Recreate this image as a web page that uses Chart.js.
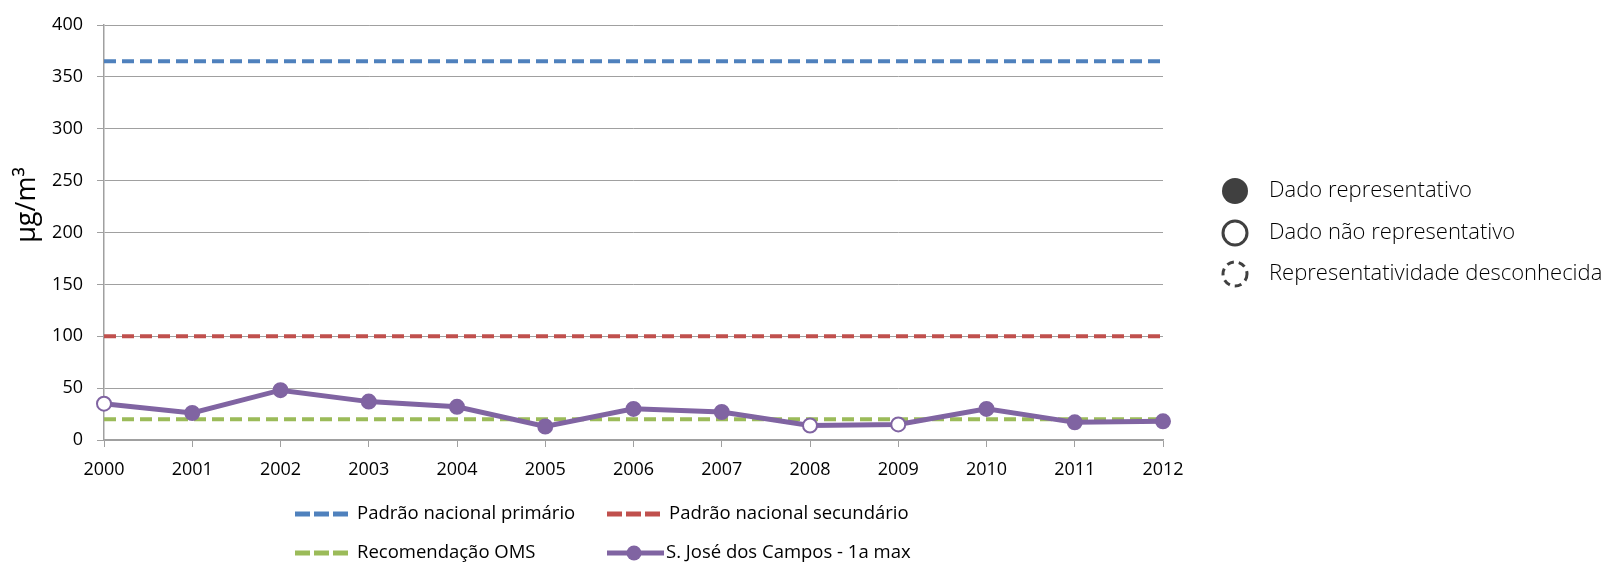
<!DOCTYPE html>
<html>
<head>
<meta charset="utf-8">
<script src="https://cdn.jsdelivr.net/npm/chart.js@4.4.0/dist/chart.umd.min.js"></script>
<style>
  body { margin: 0; background: #fff; }
  #wrap { width: 1611px; height: 565px; position: relative; }
</style>
</head>
<body>
<div id="wrap"><canvas id="chart" width="1611" height="565"></canvas></div>
<script>
const years = ["2000", "2001", "2002", "2003", "2004", "2005", "2006", "2007", "2008", "2009", "2010", "2011", "2012"];
const yTicks = [0, 50, 100, 150, 200, 250, 300, 350, 400];

const primario = [365, 365, 365, 365, 365, 365, 365, 365, 365, 365, 365, 365, 365];
const secundario = [100, 100, 100, 100, 100, 100, 100, 100, 100, 100, 100, 100, 100];
const oms = [20, 20, 20, 20, 20, 20, 20, 20, 20, 20, 20, 20, 20];
const sjc = [35, 26, 48, 37, 32, 13, 30, 27, 14, 15, 30, 17, 18];
// true = dado representativo (marcador cheio)
const representativo = [false, true, true, true, true, true, true, true, false, false, true, true, true];

const seriesNames = [
  "Padrão nacional primário",
  "Padrão nacional secundário",
  "Recomendação OMS",
  "S. José dos Campos - 1a max",
];
const markerNames = ["Dado representativo", "Dado não representativo", "Representatividade desconhecida"];

const PURPLE = "#8064A2";
const FONT = "'Open Sans', sans-serif";

function dashed(label, data, color) {
  return {
    label,
    data,
    borderColor: color,
    backgroundColor: color,
    borderWidth: 4,
    borderDash: [12, 6],
    pointRadius: 0,
    order: 1,
  };
}

// legenda de baixo (2 colunas) + legenda dos marcadores + título do eixo
const extrasPlugin = {
  id: "extras",
  afterDraw(chart) {
    const ctx = chart.ctx;
    ctx.save();

    chart.data.datasets.forEach((ds, i) => {
      const col = i % 2;
      const row = Math.floor(i / 2);
      const x = 295 + col * 312;
      const y = 514 + row * 39;
      const isDashed = ds.borderDash && ds.borderDash.length;
      ctx.strokeStyle = ds.borderColor;
      if (isDashed) {
        ctx.lineWidth = 5;
        ctx.setLineDash([15, 4]);
        ctx.beginPath();
        ctx.moveTo(x, y);
        ctx.lineTo(x + 53, y);
        ctx.stroke();
        ctx.setLineDash([]);
      } else {
        ctx.lineWidth = 5;
        ctx.beginPath();
        ctx.moveTo(x, y);
        ctx.lineTo(x + 57, y);
        ctx.stroke();
        ctx.fillStyle = PURPLE;
        ctx.beginPath();
        ctx.arc(x + 27, y, 7.5, 0, Math.PI * 2);
        ctx.fill();
      }
      ctx.fillStyle = "#000";
      ctx.font = "18.5px " + FONT;
      ctx.textBaseline = "middle";
      ctx.textAlign = "left";
      ctx.fillText(ds.label, x + (isDashed ? 62 : 59), y);
    });

    // legenda dos marcadores
    const mx = 1235;
    const mys = [191, 233, 274];
    ctx.lineWidth = 3;
    ctx.strokeStyle = "#404040";
    ctx.fillStyle = "#404040";
    ctx.beginPath();
    ctx.arc(mx, mys[0], 13, 0, Math.PI * 2);
    ctx.fill();
    ctx.fillStyle = "#fff";
    ctx.beginPath();
    ctx.arc(mx, mys[1], 12, 0, Math.PI * 2);
    ctx.fill();
    ctx.stroke();
    ctx.setLineDash([7, 5]);
    ctx.beginPath();
    ctx.arc(mx, mys[2], 12, 0, Math.PI * 2);
    ctx.stroke();
    ctx.setLineDash([]);

    ctx.fillStyle = "#000";
    ctx.font = "300 22px " + FONT;
    ctx.textBaseline = "middle";
    markerNames.forEach((t, i) => ctx.fillText(t, 1269, mys[i]));

    // título do eixo y
    ctx.translate(27, 205);
    ctx.rotate(-Math.PI / 2);
    ctx.textAlign = "center";
    ctx.font = "27px " + FONT;
    ctx.fillText("µg/m³", 0, 0);

    ctx.restore();
  },
};

new Chart(document.getElementById("chart"), {
  type: "line",
  data: {
    labels: years,
    datasets: [
      dashed(seriesNames[0], primario, "#4F81BD"),
      dashed(seriesNames[1], secundario, "#C0504D"),
      dashed(seriesNames[2], oms, "#9BBB59"),
      {
        label: seriesNames[3],
        data: sjc,
        borderColor: PURPLE,
        backgroundColor: PURPLE,
        borderWidth: 5,
        pointRadius: 7,
        pointBorderWidth: 2,
        pointBorderColor: PURPLE,
        pointBackgroundColor: representativo.map((r) => (r ? PURPLE : "#fff")),
        tension: 0,
        order: 0,
      },
    ],
  },
  options: {
    responsive: false,
    animation: false,
    layout: { padding: { left: 0, right: 448, top: 25, bottom: 0 } },
    plugins: {
      legend: { display: false },
      tooltip: { enabled: false },
    },
    scales: {
      x: {
        offset: false,
        grid: { drawOnChartArea: false, drawTicks: true, tickLength: 7, color: "#a0a0a0" },
        border: { color: "#a0a0a0", width: 1.5 },
        ticks: { color: "#000", font: { family: FONT, size: 18 }, padding: 12, maxRotation: 0 },
        afterFit: (s) => { s.height = 125; },
      },
      y: {
        min: 0,
        max: 400,
        afterBuildTicks: (s) => { s.ticks = yTicks.map((v) => ({ value: v })); },
        grid: { color: "#a0a0a0", tickLength: 7, lineWidth: 1 },
        border: { color: "#a0a0a0", width: 1.5 },
        ticks: { color: "#000", font: { family: FONT, size: 18 }, padding: 14 },
        afterFit: (s) => { s.width = 104; },
      },
    },
  },
  plugins: [extrasPlugin],
});
</script>
</body>
</html>
